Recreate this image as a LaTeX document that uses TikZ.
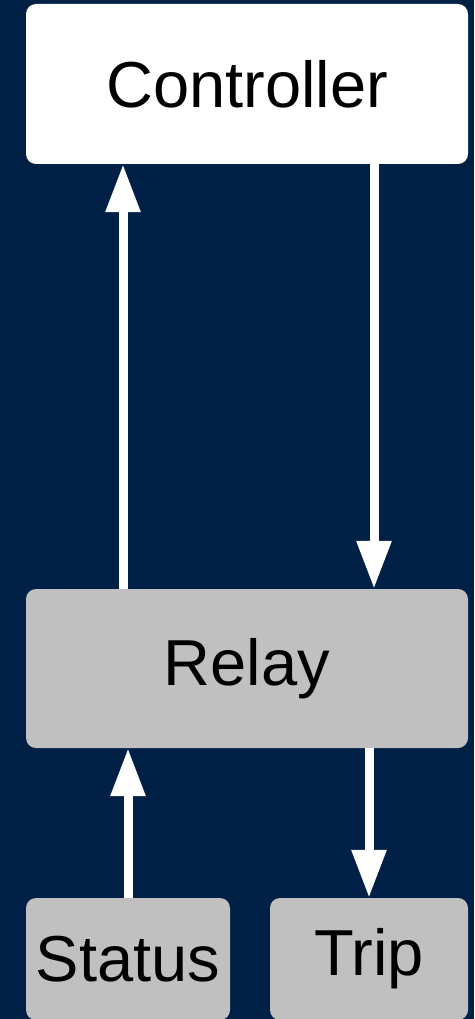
\documentclass[tikz,border=0pt]{standalone}
\usepackage{fontspec}
\setmainfont{Liberation Sans}
\usetikzlibrary{arrows.meta}
\definecolor{navy}{HTML}{002045}
\definecolor{boxgray}{HTML}{C0C0C0}
\begin{document}
\begin{tikzpicture}[x=1pt,y=-1pt,
  box/.style={rounded corners=10pt, inner sep=0pt, font=\fontsize{65}{68}\selectfont, text=black},
  arr/.style={draw=white, line width=9pt, -{Triangle[width=33pt,length=48pt]}, fill=white}]
  \fill[navy] (0,0) rectangle (474,1019);
  \useasboundingbox (0,0) rectangle (474,1019);
  \clip (0,0) rectangle (474,1019);
  \node[box, fill=white, minimum width=442pt, minimum height=160pt] (ctrl) at (247,84) {Controller};
  \node[box, fill=boxgray, minimum width=442pt, minimum height=159pt] (relay) at (247,668.5) {Relay};
  \node[box, fill=boxgray, minimum width=204pt, minimum height=122pt] (status) at (128,959) {Status};
  \node[box, fill=boxgray, minimum width=198pt, minimum height=122pt] (trip) at (369,959) {Trip};
  \draw[arr] ([xshift=-124pt]relay.north) -- ([xshift=-124pt]ctrl.south);
  \draw[arr] ([xshift=127pt]ctrl.south) -- ([xshift=127pt]relay.north);
  \draw[arr] (status.north) -- (status.north |- relay.south);
  \draw[arr] (relay.south -| trip.north) -- (trip.north);
\end{tikzpicture}
\end{document}
